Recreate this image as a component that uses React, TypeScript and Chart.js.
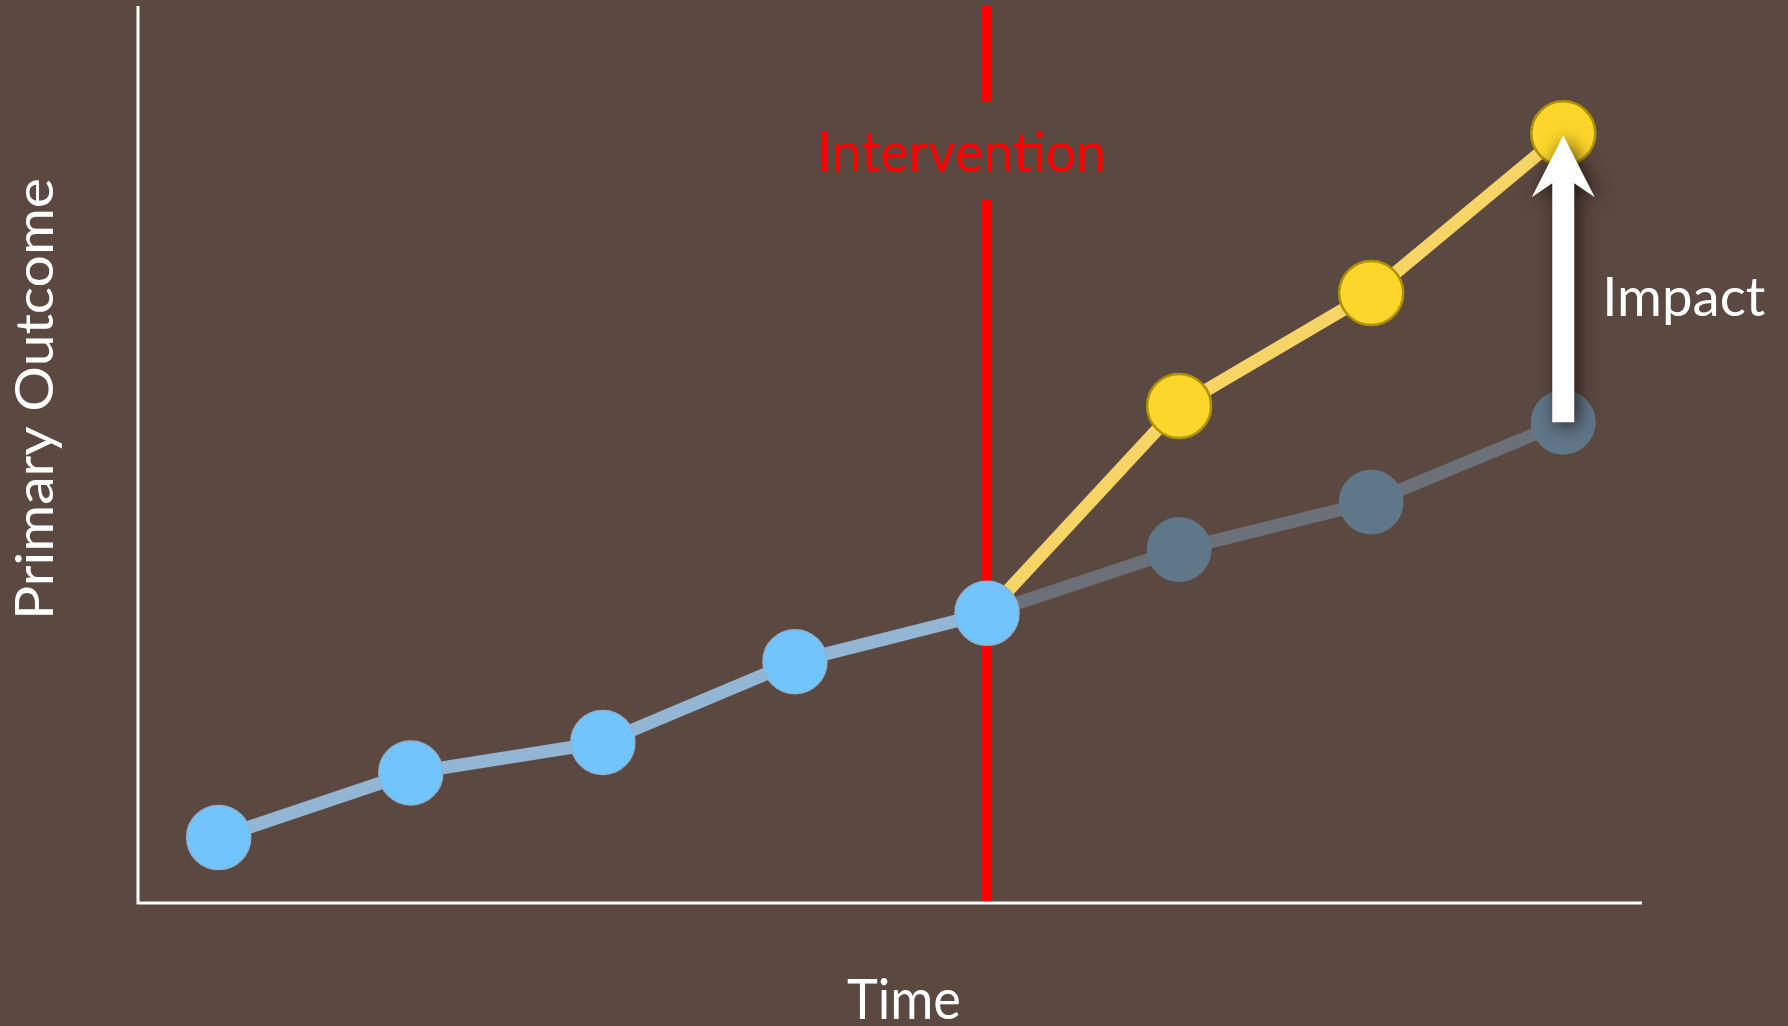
import React, { useEffect, useRef } from "react";
import { Chart, registerables } from "chart.js";

Chart.register(...registerables);

// Time steps (one per observation) and the outcome values measured at them
const timePoints = [0, 1, 2, 3, 4, 5, 6, 7];
const preValues = [7.3, 14.5, 17.9, 26.9, 32.3];
const counterfactualValues = [39.4, 44.7, 53.6];
const interventionValues = [55.4, 68.0, 85.8];
const interventionTime = 4;

const xAxisTitle = "Time";
const yAxisTitle = "Primary Outcome";
const interventionLabel = "Intervention";
const impactLabel = "Impact";

const BG = "#5B4841";
const FONT = "Lato, 'Open Sans', sans-serif";

// Draw text squeezed/stretched horizontally to a given width
function fittedText(
  ctx: CanvasRenderingContext2D,
  text: string,
  x: number,
  y: number,
  width: number,
  size: number,
  color: string,
  rotate = 0
) {
  ctx.save();
  ctx.font = `400 ${size}px ${FONT}`;
  ctx.fillStyle = color;
  ctx.textAlign = "left";
  ctx.textBaseline = "alphabetic";
  const w = ctx.measureText(text).width;
  ctx.translate(x, y);
  if (rotate) ctx.rotate(rotate);
  ctx.scale(width / w, 1);
  ctx.fillText(text, 0, 0);
  ctx.restore();
}

const decorations = {
  id: "decorations",
  beforeDatasetsDraw(chart: any) {
    const { ctx, chartArea, scales } = chart;
    const { left, right, top, bottom } = chartArea;

    // axes
    ctx.save();
    ctx.strokeStyle = "#ffffff";
    ctx.lineWidth = 3;
    ctx.beginPath();
    ctx.moveTo(left, top);
    ctx.lineTo(left, bottom + 1.5);
    ctx.moveTo(left - 1.5, bottom);
    ctx.lineTo(right, bottom);
    ctx.stroke();

    // intervention marker with a gap for its label
    const ix = scales.x.getPixelForValue(interventionTime);
    const labelBase = 172;
    ctx.strokeStyle = "#FF0000";
    ctx.lineWidth = 10;
    ctx.beginPath();
    ctx.moveTo(ix, top);
    ctx.lineTo(ix, labelBase - 70);
    ctx.moveTo(ix, labelBase + 27);
    ctx.lineTo(ix, bottom - 2);
    ctx.stroke();
    ctx.restore();

    fittedText(ctx, interventionLabel, ix - 170, labelBase, 289, 56, "#FF0000");
  },
  afterDatasetsDraw(chart: any) {
    const { ctx, scales } = chart;
    const last = timePoints[timePoints.length - 1];
    const ax = scales.x.getPixelForValue(last);
    const yBase = scales.y.getPixelForValue(counterfactualValues[counterfactualValues.length - 1]);
    const yTip = scales.y.getPixelForValue(interventionValues[interventionValues.length - 1]) + 2;

    // impact arrow
    const half = 11;
    const headHalf = 31.5;
    ctx.save();
    ctx.shadowColor = "rgba(20,10,5,0.75)";
    ctx.shadowBlur = 18;
    ctx.shadowOffsetX = 4;
    ctx.shadowOffsetY = 3;
    ctx.fillStyle = "#ffffff";
    ctx.beginPath();
    ctx.moveTo(ax, yTip);
    ctx.lineTo(ax + headHalf, yTip + 62);
    ctx.lineTo(ax + half, yTip + 48);
    ctx.lineTo(ax + half, yBase);
    ctx.lineTo(ax - half, yBase);
    ctx.lineTo(ax - half, yTip + 48);
    ctx.lineTo(ax - headHalf, yTip + 62);
    ctx.closePath();
    ctx.fill();
    ctx.restore();

    fittedText(ctx, impactLabel, ax + 39, 316, 163, 54, "#ffffff");

    // axis titles
    fittedText(ctx, xAxisTitle, 847, 1019, 114, 56, "#ffffff");
    fittedText(ctx, yAxisTitle, 53, 620, 442, 53, "#ffffff", -Math.PI / 2);
  },
};

export default function App() {
  const canvasRef = useRef<HTMLCanvasElement | null>(null);

  useEffect(() => {
    const canvas = canvasRef.current;
    if (!canvas) return;

    const pre = preValues.map((v, i) => ({ x: timePoints[i], y: v }));
    const start = pre[pre.length - 1];
    const postTimes = timePoints.slice(preValues.length);
    const counterfactual = [start, ...counterfactualValues.map((v, i) => ({ x: postTimes[i], y: v }))];
    const withIntervention = [start, ...interventionValues.map((v, i) => ({ x: postTimes[i], y: v }))];
    const postRadius = [0, ...postTimes.map(() => 32)];

    const chart = new Chart(canvas, {
      type: "line",
      data: {
        datasets: [
          {
            label: "Before",
            data: pre,
            borderColor: "#93B6D4",
            borderWidth: 13,
            pointRadius: 32,
            pointBackgroundColor: "#72C4FC",
            pointBorderColor: "#8DB3D0",
            pointBorderWidth: 1.5,
            tension: 0,
          },
          {
            label: "Without intervention",
            data: counterfactual,
            borderColor: "#6C7079",
            borderWidth: 13,
            pointRadius: postRadius,
            pointBackgroundColor: "#607689",
            pointBorderColor: "#607689",
            pointBorderWidth: 1,
            tension: 0,
          },
          {
            label: "With intervention",
            data: withIntervention,
            borderColor: "#F6D466",
            borderWidth: 13,
            pointRadius: postRadius,
            pointBackgroundColor: "#FDD62B",
            pointBorderColor: "#AE9300",
            pointBorderWidth: 2.5,
            tension: 0,
          },
        ],
      },
      options: {
        responsive: false,
        animation: false,
        devicePixelRatio: 1,
        layout: { autoPadding: false, padding: { left: 138, right: 146, top: 6, bottom: 123 } },
        plugins: { legend: { display: false }, tooltip: { enabled: false } },
        events: [],
        scales: {
          x: { type: "linear", min: -0.42, max: 7.41, display: false },
          y: { type: "linear", min: 0, max: 100, display: false },
        },
      },
      plugins: [decorations],
    });

    return () => chart.destroy();
  }, []);

  return (
    <div style={{ position: "fixed", left: 0, top: 0, width: 1788, height: 1026, background: BG }}>
      <canvas ref={canvasRef} width={1788} height={1026} style={{ display: "block" }} />
    </div>
  );
}
